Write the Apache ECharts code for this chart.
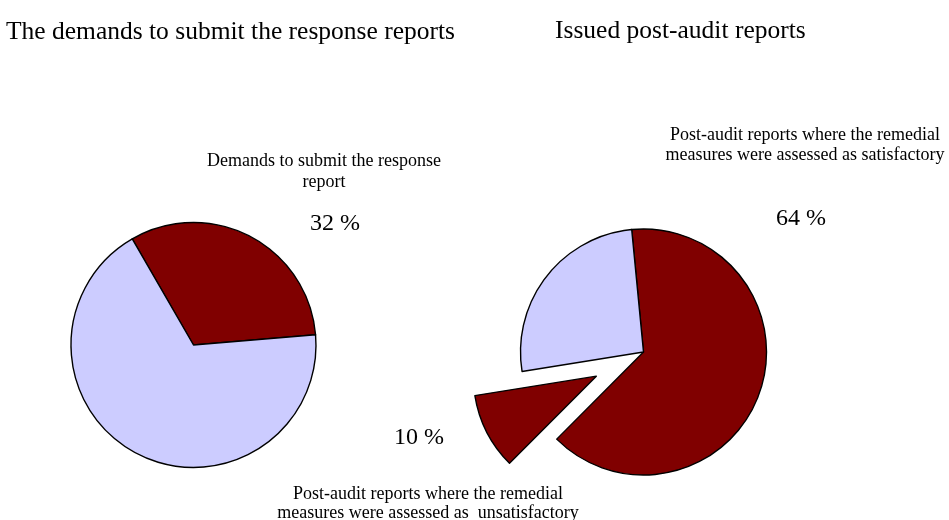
<!DOCTYPE html>
<html>
<head>
<meta charset="utf-8">
<script src="https://cdn.jsdelivr.net/npm/echarts@6/dist/echarts.min.js"></script>
<style>
  html, body { margin: 0; padding: 0; background: #ffffff; }
  #chart { width: 949px; height: 520px; }
</style>
</head>
<body>
<div id="chart"></div>
<script>
// Chart titles
const titles = ['The demands to submit the response reports', 'Issued post-audit reports'];

// Left pie: share of response-report demands
const demandNames = ['Demands to submit the response\nreport', 'Other reports'];
const demandValues = [32, 68];

// Right pie: issued post-audit reports by assessment
const postAuditNames = [
  'Post-audit reports where the remedial\nmeasures were assessed as satisfactory',
  'Post-audit reports where the remedial\nmeasures were assessed as  unsatisfactory',
  'Other post-audit reports'
];
const postAuditValues = [64, 10, 26];

const RED = '#800000';
const LAVENDER = '#CCCCFF';
const FONT = "'Liberation Serif', 'Times New Roman', serif";

function slice(name, value, color, opts) {
  return Object.assign({
    name: name,
    value: value,
    itemStyle: { color: color },
    select: { itemStyle: { color: color, borderColor: '#000', borderWidth: 1.4 } }
  }, opts || {});
}

const chart = echarts.init(document.getElementById('chart'), null, { renderer: 'canvas' });

const pieBase = {
  type: 'pie',
  clockwise: true,
  animation: false,
  silent: true,
  itemStyle: { borderColor: '#000', borderWidth: 1.4 },
  emphasis: { disabled: true },
  label: { show: false },
  labelLine: { show: false }
};

function text(str, x, y, size, align, lineHeight) {
  return {
    type: 'text',
    x: x,
    y: y,
    silent: true,
    style: {
      text: str,
      align: align,
      verticalAlign: 'middle',
      font: size + 'px ' + FONT,
      lineHeight: lineHeight || size,
      fill: '#000'
    }
  };
}

const pct = v => v + ' %';

chart.setOption({
  backgroundColor: '#ffffff',
  animation: false,
  graphic: [
    // titles
    text(titles[0], 6, 32, 25.5, 'left'),
    text(titles[1], 555, 31.5, 25.5, 'left'),
    // slice captions
    text(demandNames[0], 324, 172, 18, 'center', 20.5),
    text(postAuditNames[0], 805, 145.5, 18, 'center', 20),
    text(postAuditNames[1], 428, 503.5, 18, 'center', 19),
    // percentage figures
    text(pct(demandValues[0]), 335, 224, 24, 'center'),
    text(pct(postAuditValues[0]), 801, 218.5, 24, 'center'),
    text(pct(postAuditValues[1]), 419, 437.5, 24, 'center')
  ],
  series: [
    Object.assign({}, pieBase, {
      center: [193.5, 345],
      radius: 122.5,
      startAngle: 120,
      data: [
        slice(demandNames[0], demandValues[0], RED),
        slice(demandNames[1], demandValues[1], LAVENDER)
      ]
    }),
    Object.assign({}, pieBase, {
      center: [643.5, 352],
      radius: 123,
      startAngle: 95.5,
      selectedMode: 'multiple',
      selectedOffset: 53,
      data: [
        slice(postAuditNames[0], postAuditValues[0], RED),
        slice(postAuditNames[1], postAuditValues[1], RED, { selected: true }),
        slice(postAuditNames[2], postAuditValues[2], LAVENDER)
      ]
    })
  ]
});
</script>
</body>
</html>
